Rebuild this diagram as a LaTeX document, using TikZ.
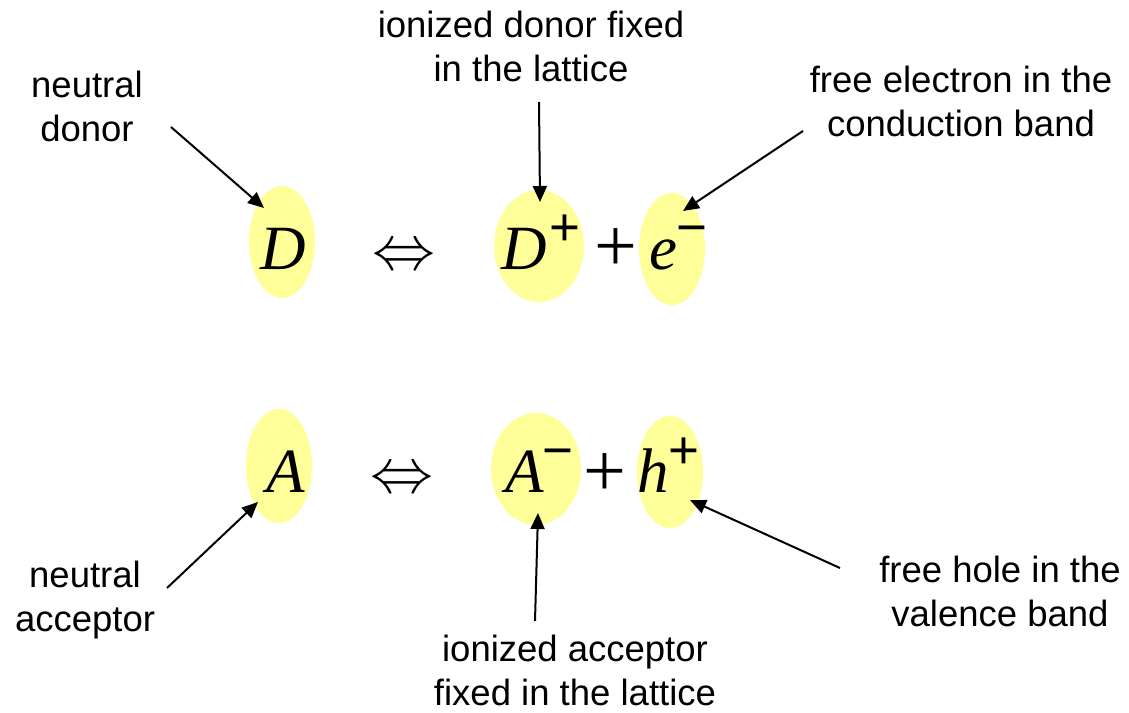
\RequirePackage{fix-cm}
\documentclass[tikz,border=0pt]{standalone}
\usepackage{fontspec}
\setmainfont{Liberation Sans}
\newfontfamily\tms{Liberation Serif}
\newfontfamily\sgn{Liberation Sans}
\usetikzlibrary{shapes.geometric,arrows.meta,calc}

\definecolor{blobfill}{HTML}{FFFF99}

% raised charge sign after a symbol
\newcommand\supr[2][0pt]{\kern#1\raisebox{23.8pt}{\sgn\fontsize{53}{53}\selectfont#2}}
% symbol in italic serif
\newcommand\sym[1]{{\tms\itshape #1}}

\tikzset{
  blob/.style={ellipse, fill=blobfill, draw=none, inner sep=0pt},
  term/.style={inner sep=0pt, font=\tms\fontsize{63}{63}\selectfont},
  plus/.style={inner sep=0pt, anchor=base, font=\tms\fontsize{76}{76}\selectfont},
  lbl/.style={inner sep=0pt, anchor=base, font=\fontsize{36.5}{44}\selectfont},
  arr/.style={line width=2pt, -{Triangle[length=16pt,width=14pt]}},
}

\begin{document}
\begin{tikzpicture}[x=1pt,y=-1pt]
\useasboundingbox (0,0) rectangle (1129,712);

% highlighted species
\node[blob, minimum width=66pt, minimum height=112pt] (eD)  at (282,242) {};
\node[blob, minimum width=90pt, minimum height=112pt] (eDp) at (539,246) {};
\node[blob, minimum width=66pt, minimum height=112pt] (ee)  at (672,249) {};
\node[blob, minimum width=66pt, minimum height=114pt] (eA)  at (279,466) {};
\node[blob, minimum width=90pt, minimum height=112pt] (eAm) at (536,469) {};
\node[blob, minimum width=66pt, minimum height=112pt] (eh)  at (670,472) {};

% donor reaction
\node[term, anchor=base]      (tD)   at (283,269) {\sym{D}};
\node[term, anchor=base]      (eqD)  at (403.5,269) {$\Leftrightarrow$};
\node[term, anchor=base west] (tDp)  at (501,269) {\sym{D}\supr[2.5pt]{+}};
\node[plus]                   (pD)   at (616,271) {+};
\node[term, anchor=base west] (te)   at (649,269) {\sym{e}\supr[-1pt]{\char"2212}};

% acceptor reaction
\node[term, anchor=base]      (tA)   at (286,492) {\sym{A}};
\node[term, anchor=base]      (eqA)  at (401.5,492) {$\Leftrightarrow$};
\node[term, anchor=base west] (tAm)  at (505,492) {\sym{A}\supr[-1.5pt]{\char"2212}};
\node[plus]                   (pA)   at (605,496) {+};
\node[term, anchor=base west] (th)   at (637,492) {\sym{h}\supr{+}};

% annotations
\node[lbl] (lND) at (87,97)   {\begin{tabular}[t]{@{}c@{}}neutral\\donor\end{tabular}};
\node[lbl] (lDp) at (531,37)  {\begin{tabular}[t]{@{}c@{}}ionized donor fixed\\in the lattice\end{tabular}};
\node[lbl] (le)  at (961,92)  {\begin{tabular}[t]{@{}c@{}}free electron in the\\conduction band\end{tabular}};
\node[lbl] (lNA) at (85,587)  {\begin{tabular}[t]{@{}c@{}}neutral\\acceptor\end{tabular}};
\node[lbl] (lAm) at (575,661) {\begin{tabular}[t]{@{}c@{}}ionized acceptor\\fixed in the lattice\end{tabular}};
\node[lbl] (lh)  at (1000,582){\begin{tabular}[t]{@{}c@{}}free hole in the\\valence band\end{tabular}};

% arrow tails
\coordinate (sND) at (171,127);
\coordinate (sDp) at (539,102);
\coordinate (se)  at (803,131);
\coordinate (sNA) at (167,588);
\coordinate (sAm) at (535,621);
\coordinate (sh)  at (840,568);

\draw[arr] (sND) -- ($(eD.center)+(-18,-34)$);
\draw[arr] (sDp) -- ($(eDp.center)+(1,-44)$);
\draw[arr] (se)  -- ($(ee.center)+(11,-38)$);
\draw[arr] (sNA) -- ($(eA.center)+(-21,36)$);
\draw[arr] (sAm) -- ($(eAm.center)+(2,44)$);
\draw[arr] (sh)  -- ($(eh.center)+(20,28)$);
\end{tikzpicture}
\end{document}
